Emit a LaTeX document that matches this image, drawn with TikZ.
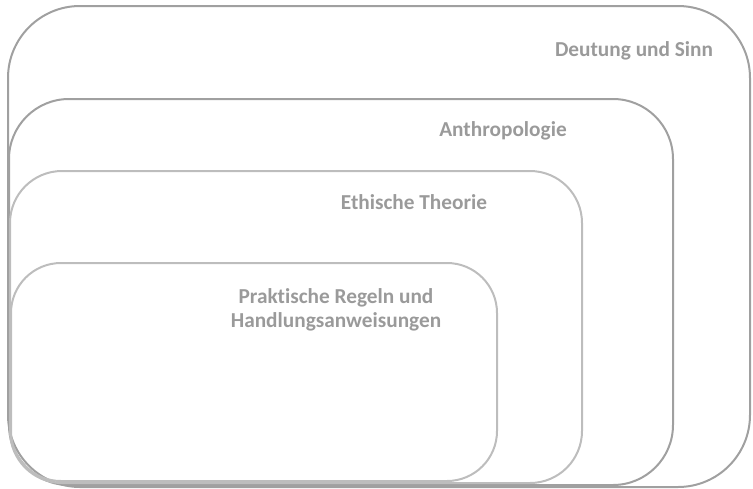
\documentclass[tikz,border=0pt]{standalone}
\usepackage{fontspec}
\setmainfont{Carlito}[Ligatures={NoCommon}]
\definecolor{edgedark}{HTML}{A0A0A0}
\definecolor{edgelight}{HTML}{BDBDBD}
\definecolor{labelgrey}{HTML}{9A9A9A}
\begin{document}
\begin{tikzpicture}[x=1pt,y=-1pt,
  box/.style={line width=2pt},
  lbl/.style={font=\bfseries\fontsize{21.3}{24}\selectfont, text=labelgrey, align=center, inner sep=0pt}]
\useasboundingbox (0,0) rectangle (753,488);
\draw[box, draw=edgedark, rounded corners=72pt] (8,6) rectangle (750,487);
\draw[box, draw=edgedark, rounded corners=60pt] (9,99) rectangle (673,485);
\draw[box, draw=edgelight, rounded corners=52pt] (10,171) rectangle (582,483);
\draw[box, draw=edgelight, rounded corners=50pt] (11,263) rectangle (497,481);
\node[lbl] (deutung) at (634,51) {Deutung und Sinn};
\node[lbl] (anthro) at (503,131) {Anthropologie};
\node[lbl] (ethik) at (414,202) {Ethische Theorie};
\node[lbl] (praxis) at (336,310) {Praktische Regeln und\\Handlungsanweisungen};
\end{tikzpicture}
\end{document}
